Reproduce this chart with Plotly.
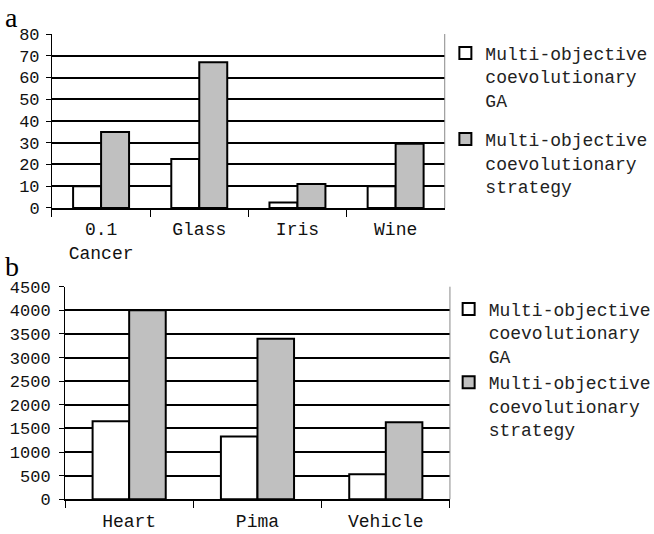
import plotly.graph_objects as go

cats_a = ["0.1<br>Cancer", "Glass", "Iris", "Wine"]
ga_a = [10, 22.5, 2.5, 10]
strat_a = [35, 67, 11, 29.5]

cats_b = ["Heart", "Pima", "Vehicle"]
ga_b = [1650, 1330, 530]
strat_b = [4000, 3400, 1630]

name_ga = "Multi-objective<br>coevolutionary<br>GA"
name_st = "Multi-objective<br>coevolutionary<br>strategy"

MONO = "Liberation Mono, Courier New, monospace"
WHITE = "#ffffff"
GRAY = "#c0c0c0"

fig = go.Figure()
line = dict(color="black", width=2)
fig.add_bar(x=cats_a, y=ga_a, name=name_ga, marker=dict(color=WHITE, line=line),
            xaxis="x", yaxis="y", legend="legend", legendgroup="a_ga")
fig.add_bar(x=cats_a, y=strat_a, name=name_st, marker=dict(color=GRAY, line=line),
            xaxis="x", yaxis="y", legend="legend", legendgroup="a_st")
fig.add_bar(x=cats_b, y=ga_b, name=name_ga, marker=dict(color=WHITE, line=line),
            xaxis="x2", yaxis="y2", legend="legend2")
fig.add_bar(x=cats_b, y=strat_b, name=name_st, marker=dict(color=GRAY, line=line),
            xaxis="x2", yaxis="y2", legend="legend2")

ytickfont = dict(family=MONO, size=17, color="#111")
xtickfont = dict(family=MONO, size=18, color="#111")
xcommon = dict(type="category", tickson="boundaries", ticks="outside", ticklen=7,
               tickcolor="black", tickwidth=1, showline=True, linecolor="black",
               linewidth=1.5, showgrid=False, tickfont=xtickfont, fixedrange=True,
               automargin=False)
ycommon = dict(ticks="outside", ticklen=5, tickcolor="black", tickwidth=1,
               showline=True, linecolor="black", linewidth=1, showgrid=True,
               gridcolor="black", gridwidth=2, zeroline=False, tickfont=ytickfont,
               fixedrange=True, automargin=False)

legfont = dict(family=MONO, size=18, color="#222")

fig.update_layout(
    width=654, height=534,
    margin=dict(l=0, r=0, t=0, b=0, autoexpand=False),
    paper_bgcolor="white", plot_bgcolor="white",
    barmode="group", bargap=0.43, bargroupgap=0,
    xaxis=dict(domain=[0.0795, 0.680], anchor="y", ticklabelstandoff=4, **xcommon),
    yaxis=dict(domain=[0.6105, 0.9363], anchor="x", range=[0, 80], dtick=10,
               ticklabelstandoff=3, **ycommon),
    xaxis2=dict(domain=[0.0994, 0.688], anchor="y2", ticklabelstandoff=4, **xcommon),
    yaxis2=dict(domain=[0.065, 0.4631], anchor="x2", range=[0, 4500], dtick=500,
                ticklabelstandoff=5, **ycommon),
    legend=dict(x=0.681, y=0.935, xanchor="left", yanchor="top",
                font=legfont, valign="top", traceorder="grouped", tracegroupgap=13,
                itemwidth=30, bgcolor="rgba(0,0,0,0)"),
    legend2=dict(x=0.686, y=0.4555, xanchor="left", yanchor="top",
                 font=legfont, valign="top", itemwidth=30,
                 bgcolor="rgba(0,0,0,0)"),
    showlegend=True,
    annotations=[
        dict(text="a", x=0.004, y=1.0, xref="paper", yref="paper", xanchor="left",
             yanchor="top", showarrow=False,
             font=dict(family="Liberation Serif, Times New Roman, serif", size=28, color="black")),
        dict(text="b", x=0.004, y=0.534, xref="paper", yref="paper", xanchor="left",
             yanchor="top", showarrow=False,
             font=dict(family="Liberation Serif, Times New Roman, serif", size=28, color="black")),
    ],
    shapes=[
        dict(type="line", xref="x domain", yref="y domain", x0=1, x1=1, y0=0, y1=1,
             line=dict(color="#888", width=1)),
        dict(type="line", xref="x2 domain", yref="y2 domain", x0=1, x1=1, y0=0, y1=1,
             line=dict(color="#888", width=1)),
    ],
)

fig.write_html("out.html", config={"displayModeBar": False},
               post_script="document.body.style.margin='0';document.body.style.overflow='hidden';")
